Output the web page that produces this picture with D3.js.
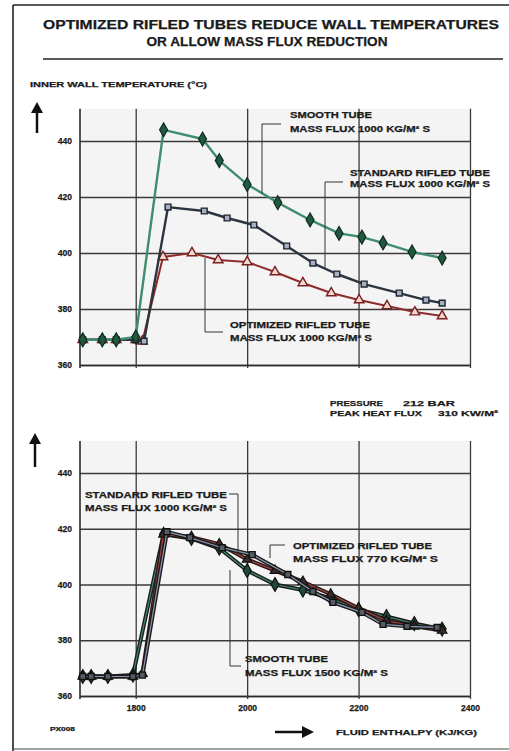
<!DOCTYPE html>
<html><head><meta charset="utf-8">
<script src="https://cdn.jsdelivr.net/npm/d3@7/dist/d3.min.js"></script>
<style>
body{margin:0;background:#fff}
svg{display:block}
text{font-family:"Liberation Sans",Arial,sans-serif;font-weight:bold;fill:#1a1a1a;stroke:#1a1a1a;stroke-width:0.25}
</style>
</head><body><svg id="c" width="509" height="751"></svg>
<script>
// ---------------- DATA ----------------
const xTicks = [1800, 2000, 2200, 2400];
const xTickLabels = ["1800", "2000", "2200", "2400"];
const yTicks = [360, 380, 400, 420, 440];
const yTickLabels = ["360", "380", "400", "420", "440"];

// upper panel (all mass flux 1000 kg/m2s)
const topSmoothX    = [1705,1740,1765,1800,1850,1920,1950,2000,2055,2113,2165,2206,2244,2296,2350];
const topSmoothY    = [369,369,369,370,444,440.7,433,424.5,418,411.8,407,405.7,403.6,400.4,398.2];
const topStandardX  = [1705,1740,1765,1800,1815,1858,1923,1964,2012,2071,2118,2161,2210,2273,2321,2350];
const topStandardY  = [369,369,369,369,368.5,416.4,415,412.5,410,402.5,396.4,392.5,388.9,385.7,383.2,382.1];
const topOptimizedX = [1705,1740,1765,1800,1812,1849,1901,1948,2000,2050,2100,2151,2201,2251,2301,2350];
const topOptimizedY = [369,369,369,369,368.5,398.6,400,397.5,396.8,393.2,389.3,385.7,383.2,381.1,378.9,377.5];

// lower panel
const botSmoothX    = [1705,1720,1750,1795,1850,1900,1950,2000,2050,2100,2150,2200,2250,2300,2350];
const botSmoothY    = [367,367,367,367.5,418,416.5,413,405,400,398,395,391,388.5,386,384];
const botStandardX  = [1705,1720,1750,1795,1812,1856,1897,1955,2009,2073,2118,2154,2206,2244,2287,2341];
const botStandardY  = [367,367,367,367,367.5,418.9,416.8,413.2,410.7,403.6,397.5,393.6,390,385.7,385,384.6];
const botOptimizedX = [1705,1720,1750,1795,1812,1850,1900,1950,2000,2050,2100,2150,2200,2250,2300,2350];
const botOptimizedY = [367,367,367,367,368,418,417,414.5,409,405,401,396.5,391.5,387,385,383.5];

// ---------------- CHART ----------------
const svg = d3.select("#c");
const zip = (xs, ys) => xs.map((v, i) => [v, ys[i]]);

const x = d3.scaleLinear().domain([1700, 2400]).range([80, 470]);
const yTop = d3.scaleLinear().domain([360, 440]).range([365, 141]);
const yBot = d3.scaleLinear().domain([360, 440]).range([696, 473]);
const yMax = 451.5;

// page frame
svg.append("line").attr("x1", 13).attr("x2", 509).attr("y1", 5).attr("y2", 5).attr("stroke", "#222").attr("stroke-width", 1.6);
svg.append("line").attr("x1", 13).attr("x2", 13).attr("y1", 5).attr("y2", 751).attr("stroke", "#222").attr("stroke-width", 1.6);
svg.append("line").attr("x1", 43).attr("x2", 503).attr("y1", 59).attr("y2", 59).attr("stroke", "#222").attr("stroke-width", 1.6);
svg.append("line").attr("x1", 13).attr("x2", 509).attr("y1", 749).attr("y2", 749).attr("stroke", "#444").attr("stroke-width", 1.2);

// title
svg.append("text").attr("x", 271).attr("y", 29).attr("text-anchor", "middle")
  .attr("font-size", 13).attr("textLength", 456).attr("lengthAdjust", "spacingAndGlyphs")
  .text("OPTIMIZED RIFLED TUBES REDUCE WALL TEMPERATURES");
svg.append("text").attr("x", 267).attr("y", 46).attr("text-anchor", "middle")
  .attr("font-size", 13).attr("textLength", 241).attr("lengthAdjust", "spacingAndGlyphs")
  .text("OR ALLOW MASS FLUX REDUCTION");

svg.append("text").attr("x", 30).attr("y", 87).attr("font-size", 7.5)
  .attr("textLength", 177).attr("lengthAdjust", "spacingAndGlyphs")
  .text("INNER WALL TEMPERATURE (°C)");

function upArrow(cx, tip, bottom) {
  svg.append("line").attr("x1", cx).attr("x2", cx).attr("y1", tip + 8).attr("y2", bottom)
    .attr("stroke", "#111").attr("stroke-width", 2.5);
  svg.append("path").attr("d", `M${cx},${tip} L${cx - 6},${tip + 11} L${cx + 6},${tip + 11} Z`).attr("fill", "#111");
}
upArrow(37, 102, 133);
upArrow(35, 433, 467);

function panel(y, series, showXLabels) {
  const top = y(yMax), bottom = y(360);
  const g = svg.append("g");
  g.append("rect").attr("x", x(1700)).attr("y", top).attr("width", x(2400) - x(1700))
    .attr("height", bottom - top).attr("fill", "#f4f4f4");
  // y axis with gridlines
  const ya = g.append("g").attr("transform", `translate(${x(1700)},0)`)
    .call(d3.axisLeft(y).tickValues(yTicks).tickFormat((d, i) => yTickLabels[i])
      .tickSize(-(x(2400) - x(1700))).tickPadding(8));
  ya.select(".domain").remove();
  ya.selectAll(".tick line").attr("stroke", "#3a3a3a").attr("stroke-width", 1.3);
  ya.selectAll(".tick text").attr("font-size", 8.5).attr("font-family", "Liberation Sans, Arial, sans-serif")
    .attr("font-weight", "bold").attr("fill", "#1a1a1a");
  // x axis: vertical gridlines
  const xa = g.append("g").attr("transform", `translate(0,${bottom})`)
    .call(d3.axisBottom(x).tickValues(xTicks).tickFormat((d, i) => showXLabels ? xTickLabels[i] : "")
      .tickSizeInner(-(bottom - top)).tickSizeOuter(0).tickPadding(9));
  xa.select(".domain").attr("stroke", "#2a2a2a").attr("stroke-width", 1.6);
  xa.selectAll(".tick line").attr("stroke", "#3a3a3a").attr("stroke-width", 1.3).attr("y2", -(bottom - top)).attr("y1", 3);
  xa.selectAll(".tick text").attr("font-size", 8.5).attr("font-family", "Liberation Sans, Arial, sans-serif")
    .attr("font-weight", "bold").attr("fill", "#1a1a1a");
  // left border
  g.append("line").attr("x1", x(1700)).attr("x2", x(1700)).attr("y1", top).attr("y2", bottom + 3)
    .attr("stroke", "#2a2a2a").attr("stroke-width", 1.6);

  const line = d3.line().x(d => x(d[0])).y(d => y(d[1]));
  series.forEach(s => {
    const pts = zip(s.xs, s.ys);
    if (s.under) g.append("path").attr("d", line(pts)).attr("fill", "none")
      .attr("stroke", s.under).attr("stroke-width", s.underW).attr("stroke-linejoin", "round");
    g.append("path").attr("d", line(pts)).attr("fill", "none")
      .attr("stroke", s.color).attr("stroke-width", s.width).attr("stroke-linejoin", "round");
    g.selectAll(null).data(pts).enter().append("path")
      .attr("transform", d => `translate(${x(d[0])},${y(d[1])})`)
      .attr("d", d3.symbol().type(s.symbol).size(s.size))
      .attr("fill", s.fill).attr("stroke", s.stroke).attr("stroke-width", s.sw);
  });
}

panel(yTop, [
  {xs: topOptimizedX, ys: topOptimizedY, color: "#8e2b2b", width: 2, symbol: d3.symbolTriangle, size: 40, fill: "#f1d6d0", stroke: "#7a1f1f", sw: 1.4},
  {xs: topStandardX, ys: topStandardY, color: "#2c3440", width: 2.4, symbol: d3.symbolSquare, size: 34, fill: "#a7b0c2", stroke: "#1d2430", sw: 1.4},
  {xs: topSmoothX, ys: topSmoothY, color: "#3e8c72", width: 2.4, symbol: d3.symbolDiamond, size: 55, fill: "#1f5a40", stroke: "#0f2a1e", sw: 1.2}
], false);

panel(yBot, [
  {xs: botSmoothX, ys: botSmoothY, under: "#1c1c1c", underW: 4, color: "#3e8c72", width: 1.2, symbol: d3.symbolDiamond, size: 55, fill: "#1f4a36", stroke: "#111", sw: 1.2},
  {xs: botOptimizedX, ys: botOptimizedY, under: "#2a1a1a", underW: 4, color: "#b04545", width: 1.2, symbol: d3.symbolTriangle, size: 40, fill: "#3a2a2a", stroke: "#111", sw: 1.2},
  {xs: botStandardX, ys: botStandardY, under: "#1c1c1c", underW: 4, color: "#8a97ad", width: 1.2, symbol: d3.symbolSquare, size: 36, fill: "#555c68", stroke: "#111", sw: 1.4}
], true);

// annotations
function label(x0, yc1, l1, w1, yc2, l2, w2) {
  svg.append("text").attr("x", x0).attr("y", yc1 + 3.2).attr("font-size", 8.5)
    .attr("textLength", w1).attr("lengthAdjust", "spacingAndGlyphs").text(l1);
  svg.append("text").attr("x", x0).attr("y", yc2 + 3.2).attr("font-size", 8.5)
    .attr("textLength", w2).attr("lengthAdjust", "spacingAndGlyphs").text(l2);
}
function leader(pts) {
  svg.append("path").attr("d", d3.line()(pts)).attr("fill", "none").attr("stroke", "#333").attr("stroke-width", 1);
}

// upper panel
label(290, 115, "SMOOTH TUBE", 82, 129, "MASS FLUX 1000 KG/M² S", 140);
leader([[281, 124], [262, 124], [262, 194]]);
label(350, 173, "STANDARD RIFLED TUBE", 140, 184, "MASS FLUX 1000 KG/M² S", 140);
leader([[343, 182], [325, 182], [325, 268]]);
label(230, 325, "OPTIMIZED RIFLED TUBE", 140, 338, "MASS FLUX 1000 KG/M² S", 142);
leader([[223, 332], [205, 332], [205, 258]]);

// lower panel
svg.append("text").attr("x", 330).attr("y", 406).attr("font-size", 8).attr("textLength", 53).attr("lengthAdjust", "spacingAndGlyphs").text("PRESSURE");
svg.append("text").attr("x", 403).attr("y", 406).attr("font-size", 8).attr("textLength", 52).attr("lengthAdjust", "spacingAndGlyphs").text("212 BAR");
svg.append("text").attr("x", 330).attr("y", 416).attr("font-size", 8).attr("textLength", 92).attr("lengthAdjust", "spacingAndGlyphs").text("PEAK HEAT FLUX");
svg.append("text").attr("x", 438).attr("y", 416).attr("font-size", 8).attr("textLength", 60).attr("lengthAdjust", "spacingAndGlyphs").text("310 KW/M²");

label(85, 495, "STANDARD RIFLED TUBE", 142, 508, "MASS FLUX 1000 KG/M² S", 142);
leader([[229, 494], [238, 494], [238, 552]]);
label(293, 546, "OPTIMIZED RIFLED TUBE", 139, 559, "MASS FLUX 770 KG/M² S", 145);
leader([[285, 545], [270, 545], [270, 558]]);
label(245, 659, "SMOOTH TUBE", 83, 673, "MASS FLUX 1500 KG/M² S", 143);
leader([[241, 666], [230, 666], [230, 570]]);

// x axis title and arrow
svg.append("line").attr("x1", 275).attr("x2", 304).attr("y1", 732).attr("y2", 732).attr("stroke", "#111").attr("stroke-width", 2.5);
svg.append("path").attr("d", "M314,732 L302,726 L302,738 Z").attr("fill", "#111");
svg.append("text").attr("x", 336).attr("y", 735).attr("font-size", 8).attr("textLength", 141).attr("lengthAdjust", "spacingAndGlyphs").text("FLUID ENTHALPY (KJ/KG)");
svg.append("text").attr("x", 50).attr("y", 731).attr("font-size", 5.5).attr("textLength", 25).attr("lengthAdjust", "spacingAndGlyphs").text("PX008");
</script>
</body></html>
